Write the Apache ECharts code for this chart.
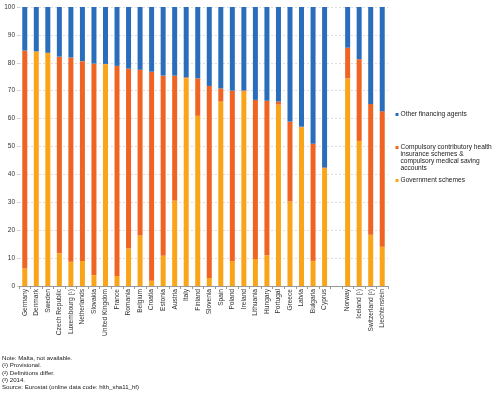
<!DOCTYPE html>
<html>
<head>
<meta charset="utf-8">
<script src="https://cdn.jsdelivr.net/npm/echarts@6/dist/echarts.min.js"></script>
<style>html,body{margin:0;padding:0;background:#fff}#c{width:500px;height:393px}</style>
</head>
<body>
<div id="c"></div>
<script>
const categories = ['Germany','Denmark','Sweden','Czech Republic','Luxembourg (¹)','Netherlands','Slovakia','United Kingdom','France','Romania','Belgium','Croatia','Estonia','Austria','Italy','Finland','Slovenia','Spain','Poland','Ireland','Lithuania','Hungary','Portugal','Greece','Latvia','Bulgaria','Cyprus','','Norway','Iceland (¹)','Switzerland (²)','Liechtenstein'];
const government = [6.3,84.0,83.5,11.7,8.7,9.0,3.9,79.5,3.6,13.4,18.1,1.9,10.8,30.6,74.5,61.0,2.9,66.1,9.0,69.7,9.7,11.0,65.0,30.3,56.9,9.0,42.2,null,74.4,52.0,18.4,14.1];
const compulsory = [78.1,0.1,0.1,70.5,73.2,71.6,75.8,0.1,75.3,64.5,59.4,74.9,64.6,44.8,0.3,13.4,68.8,4.7,61.0,0.4,57.0,55.4,1.1,28.6,0.2,42.0,0.3,null,11.0,29.3,46.8,48.5];
const other = [15.6,15.9,16.4,17.8,18.1,19.4,20.3,20.4,21.1,22.1,22.5,23.2,24.6,24.6,25.2,25.6,28.3,29.2,30.0,29.9,33.3,33.6,33.9,41.1,42.9,49.0,57.5,null,14.6,18.7,34.8,37.4];
const yTicks = [0,10,20,30,40,50,60,70,80,90,100];
const seriesNames = ['Government schemes','Compulsory contributory health insurance schemes & compulsory medical saving accounts','Other financing agents'];
const notes = ['Note: Malta, not available.','(¹) Provisional.','(²) Definitions differ.','(³) 2014.','Source: Eurostat (online data code: hlth_sha11_hf)'];

const colors = ['#faa519','#f06423','#2a6ebb'];
const font = 'Liberation Sans, Arial, sans-serif';

const chart = echarts.init(document.getElementById('c'));
const mk = (name, data, color) => ({
  name, type:'bar', stack:'s', data, barWidth:5,
  itemStyle:{color}, emphasis:{disabled:true}
});

const legendItems = [
  {name: seriesNames[2], color: colors[2], y: 114.5, lines:['Other financing agents']},
  {name: seriesNames[1], color: colors[1], y: 147.5, lines:['Compulsory contributory health','insurance schemes &','compulsory medical saving','accounts']},
  {name: seriesNames[0], color: colors[0], y: 180.5, lines:['Government schemes']}
];
const graphics = [];
legendItems.forEach(it => {
  graphics.push({type:'rect', left:395.5, top:it.y-1.5, shape:{width:3,height:3}, style:{fill:it.color}, silent:true});
  graphics.push({type:'text', left:400.5, top:it.y-3.6, style:{text:it.lines.join('\n'), fontSize:6.6, lineHeight:6.9, fill:'#222', fontFamily:font}, silent:true});
});
graphics.push({type:'text', left:2, top:355, style:{text:notes.join('\n'), fontSize:6.1, lineHeight:7.2, fill:'#222', fontFamily:font}, silent:true});

chart.setOption({
  animation:false,
  textStyle:{fontFamily:font},
  legend:{show:false, data:seriesNames},
  grid:{left:19, right:112, top:7, bottom:107, containLabel:false},
  xAxis:{
    type:'category', data:categories,
    axisLine:{lineStyle:{color:'#999', width:1}},
    axisTick:{show:true, interval:0, length:3, lineStyle:{color:'#999'}},
    axisLabel:{interval:0, rotate:90, fontSize:6.6, color:'#333', margin:3, fontFamily:font}
  },
  yAxis:{
    type:'value', min:0, max:100, interval:10,
    axisLine:{show:false},
    axisTick:{show:true, length:2, lineStyle:{color:'#ccc'}},
    splitLine:{lineStyle:{color:'#d6d6d6', type:[2,2], width:0.8}},
    axisLabel:{fontSize:6.5, color:'#333', margin:4, fontFamily:font,
      formatter: v => yTicks.includes(v) ? String(v) : ''}
  },
  series:[
    mk(seriesNames[0], government, colors[0]),
    mk(seriesNames[1], compulsory, colors[1]),
    mk(seriesNames[2], other, colors[2])
  ],
  graphic: graphics
});
</script>
</body>
</html>
